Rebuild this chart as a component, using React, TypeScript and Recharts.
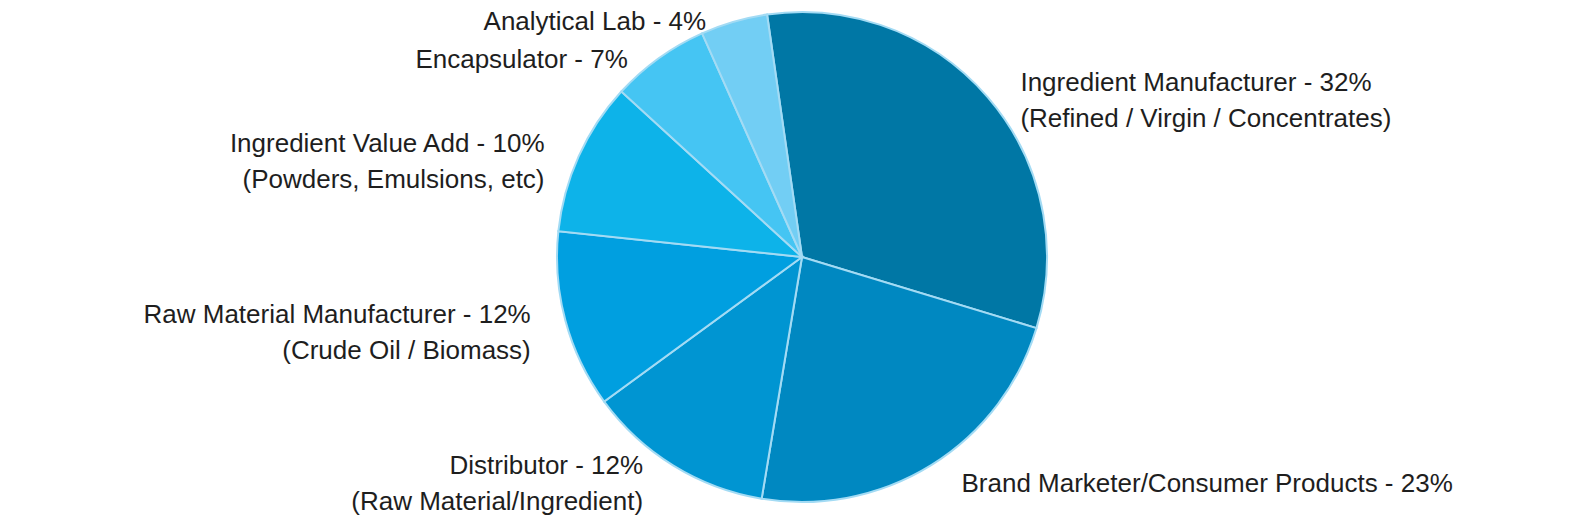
import { PieChart, Pie, Cell } from "recharts";

const categories = [
  "Ingredient Manufacturer",
  "Brand Marketer/Consumer Products",
  "Distributor",
  "Raw Material Manufacturer",
  "Ingredient Value Add",
  "Encapsulator",
  "Analytical Lab",
];
const shares = [31.9, 22.9, 12.3, 11.7, 10.1, 6.5, 4.4];
const percentLabels = ["32%", "23%", "12%", "12%", "10%", "7%", "4%"];
const subLabels = [
  "(Refined / Virgin / Concentrates)",
  "",
  "(Raw Material/Ingredient)",
  "(Crude Oil / Biomass)",
  "(Powders, Emulsions, etc)",
  "",
  "",
];

const COLORS = ["#0077a5", "#0088c1", "#0095d2", "#009fe0", "#0db3e9", "#45c5f3", "#72cef4"];

const data = categories.map((name, i) => ({
  name,
  value: shares[i],
  pct: percentLabels[i],
  sub: subLabels[i],
}));

const RADIAN = Math.PI / 180;
const LINE_H = 36;

function renderLabel(props: any) {
  const { cx, cy, midAngle, outerRadius, index } = props;
  const d = data[index];
  const r = outerRadius + 10;
  const cos = Math.cos(-midAngle * RADIAN);
  const sin = Math.sin(-midAngle * RADIAN);
  const right = cos >= 0;
  const x = cx + r * cos + (right ? 25 : -25);
  const lines = [`${d.name} - ${d.pct}`];
  if (d.sub) lines.push(d.sub);
  const yc = cy + r * sin + 9;
  const y0 = yc - ((lines.length - 1) * LINE_H) / 2;
  return (
    <text
      x={x}
      y={y0}
      fill="#1e1e1e"
      fontSize={26}
      fontFamily="'Liberation Sans', Arial, sans-serif"
      textAnchor={right ? "start" : "end"}
      dominantBaseline="central"
    >
      {lines.map((l, i) => (
        <tspan key={i} x={x} dy={i === 0 ? 0 : LINE_H}>
          {l}
        </tspan>
      ))}
    </text>
  );
}

export default function App() {
  return (
    <div style={{ position: "absolute", left: 0, top: 0, width: 1574, height: 529, background: "#fff" }}>
      <PieChart width={1574} height={529} margin={{ top: 0, right: 0, bottom: 0, left: 0 }}>
        <Pie
          data={data}
          dataKey="value"
          cx={802}
          cy={257}
          outerRadius={245}
          startAngle={98.2}
          endAngle={-261.8}
          stroke="#a3dbf4"
          strokeWidth={2}
          label={renderLabel}
          labelLine={false}
          isAnimationActive={false}
        >
          {data.map((entry, index) => (
            <Cell key={`cell-${index}`} fill={COLORS[index]} />
          ))}
        </Pie>
      </PieChart>
    </div>
  );
}
